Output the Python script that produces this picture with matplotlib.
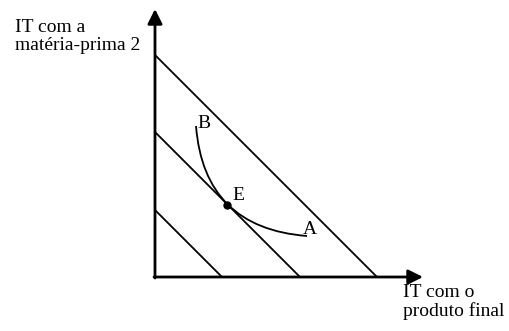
import matplotlib.pyplot as plt
from matplotlib.path import Path
from matplotlib.patches import PathPatch

# retas de isocusto (interceptos iguais nos dois eixos)
intercepts = [67, 145, 222]

# curva BA (pontos de controle de Bezier quadratica)
curve_pts = [(41, 151), (49, 49), (152, 41)]
point_E = (72.5, 72.5)

labels = {"B": (42, 145), "E": (77, 73), "A": (148, 39)}
y_label = "IT com a\nmatéria-prima 2"
x_label = "IT com o\nproduto final"

plt.rcParams['font.family'] = ['Liberation Serif', 'DejaVu Serif']

fig = plt.figure(figsize=(5.10, 3.31), dpi=100)
ax = fig.add_axes([0, 0, 1, 1])
ax.set_xlim(-155, 355)
ax.set_ylim(-54, 277)
ax.axis('off')

# eixos com setas
ax.annotate('', xy=(0, 268), xytext=(0, -1),
            arrowprops=dict(arrowstyle='-|>', lw=2, color='black',
                            mutation_scale=22, shrinkA=0, shrinkB=0))
ax.annotate('', xy=(268, 0), xytext=(-1, 0),
            arrowprops=dict(arrowstyle='-|>', lw=2, color='black',
                            mutation_scale=22, shrinkA=0, shrinkB=0))

for c in intercepts:
    ax.plot([0, c], [c, 0], color='black', lw=1.3, solid_capstyle='butt')

path = Path(curve_pts, [Path.MOVETO, Path.CURVE3, Path.CURVE3])
ax.add_patch(PathPatch(path, facecolor='none', edgecolor='black', lw=1.3))

ax.plot(*point_E, 'o', color='black', markersize=5)

for name, (x, y) in labels.items():
    ax.text(x, y, name, fontsize=14, ha='left', va='bottom')

ax.text(-140, 258, y_label, fontsize=14, ha='left', va='top', linespacing=1.05)
ax.text(248, -7, x_label, fontsize=14, ha='left', va='top', linespacing=1.05)

fig.savefig('out.png', dpi=100)
